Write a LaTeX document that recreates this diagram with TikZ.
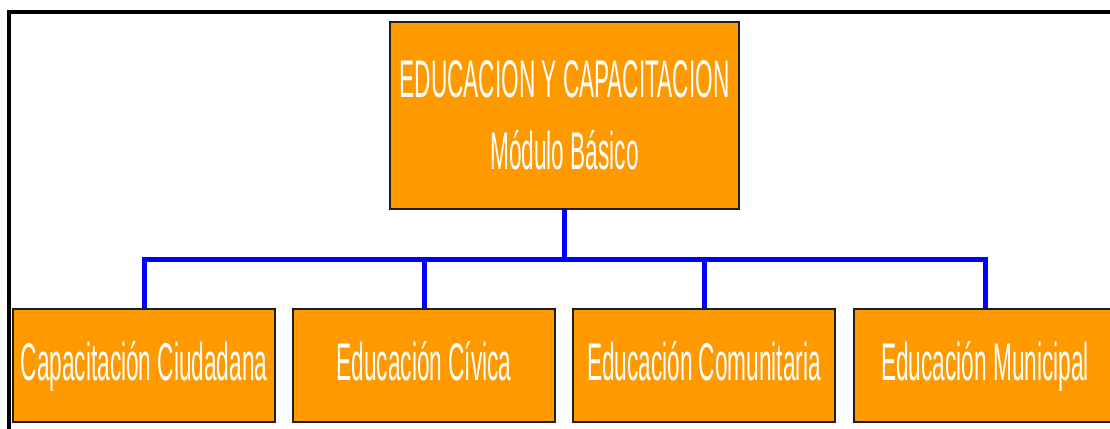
\documentclass[tikz,border=0pt]{standalone}
\usepackage{fontspec}
\newfontfamily\narrowfont[FakeStretch=0.427]{Liberation Sans}
\usetikzlibrary{backgrounds}
\definecolor{boxorange}{HTML}{FF9900}
\definecolor{boxline}{HTML}{1E1E1E}
\definecolor{connblue}{HTML}{0000FF}
\tikzset{
  orgbox/.style={draw=boxline, line width=1.3pt, fill=boxorange, inner sep=0pt,
    text=white, font=\narrowfont\fontsize{53}{74}\selectfont},
  rootbox/.style={orgbox, minimum width=349pt, minimum height=187pt, align=center},
  leafbox/.style={orgbox, minimum width=262pt, minimum height=113pt,
    text height=40pt, text depth=11pt},
  conn/.style={draw=connblue, line width=5pt},
  frameline/.style={draw=black, line width=4pt}
}
\begin{document}
\begin{tikzpicture}[x=1pt,y=-1pt]
\useasboundingbox (0,0) rectangle (1110,428);
\clip (0,0) rectangle (1110,428);
\draw[frameline] (9,440) -- (9,12) -- (1130,12);
\node[rootbox] (root) at (564.5,115.5) {EDUCACION Y CAPACITACION\\[-2pt]Módulo Básico};
\node[leafbox] (c1) at (144,365.5) {Capacitación Ciudadana};
\node[leafbox] (c2) at (424,365.5) {Educación Cívica};
\node[leafbox] (c3) at (704,365.5) {Educación Comunitaria};
\node[leafbox] (c4) at (985,365.5) {Educación Municipal};
\coordinate (bus) at (564.5,259.5);
\begin{pgfonlayer}{background}
\draw[conn] (root.south) -- (bus);
\draw[conn] (c1.north) |- (bus) -| (c4.north);
\draw[conn] (c2.north) -- (c2.north |- bus);
\draw[conn] (c3.north) -- (c3.north |- bus);
\end{pgfonlayer}
\end{tikzpicture}
\end{document}
